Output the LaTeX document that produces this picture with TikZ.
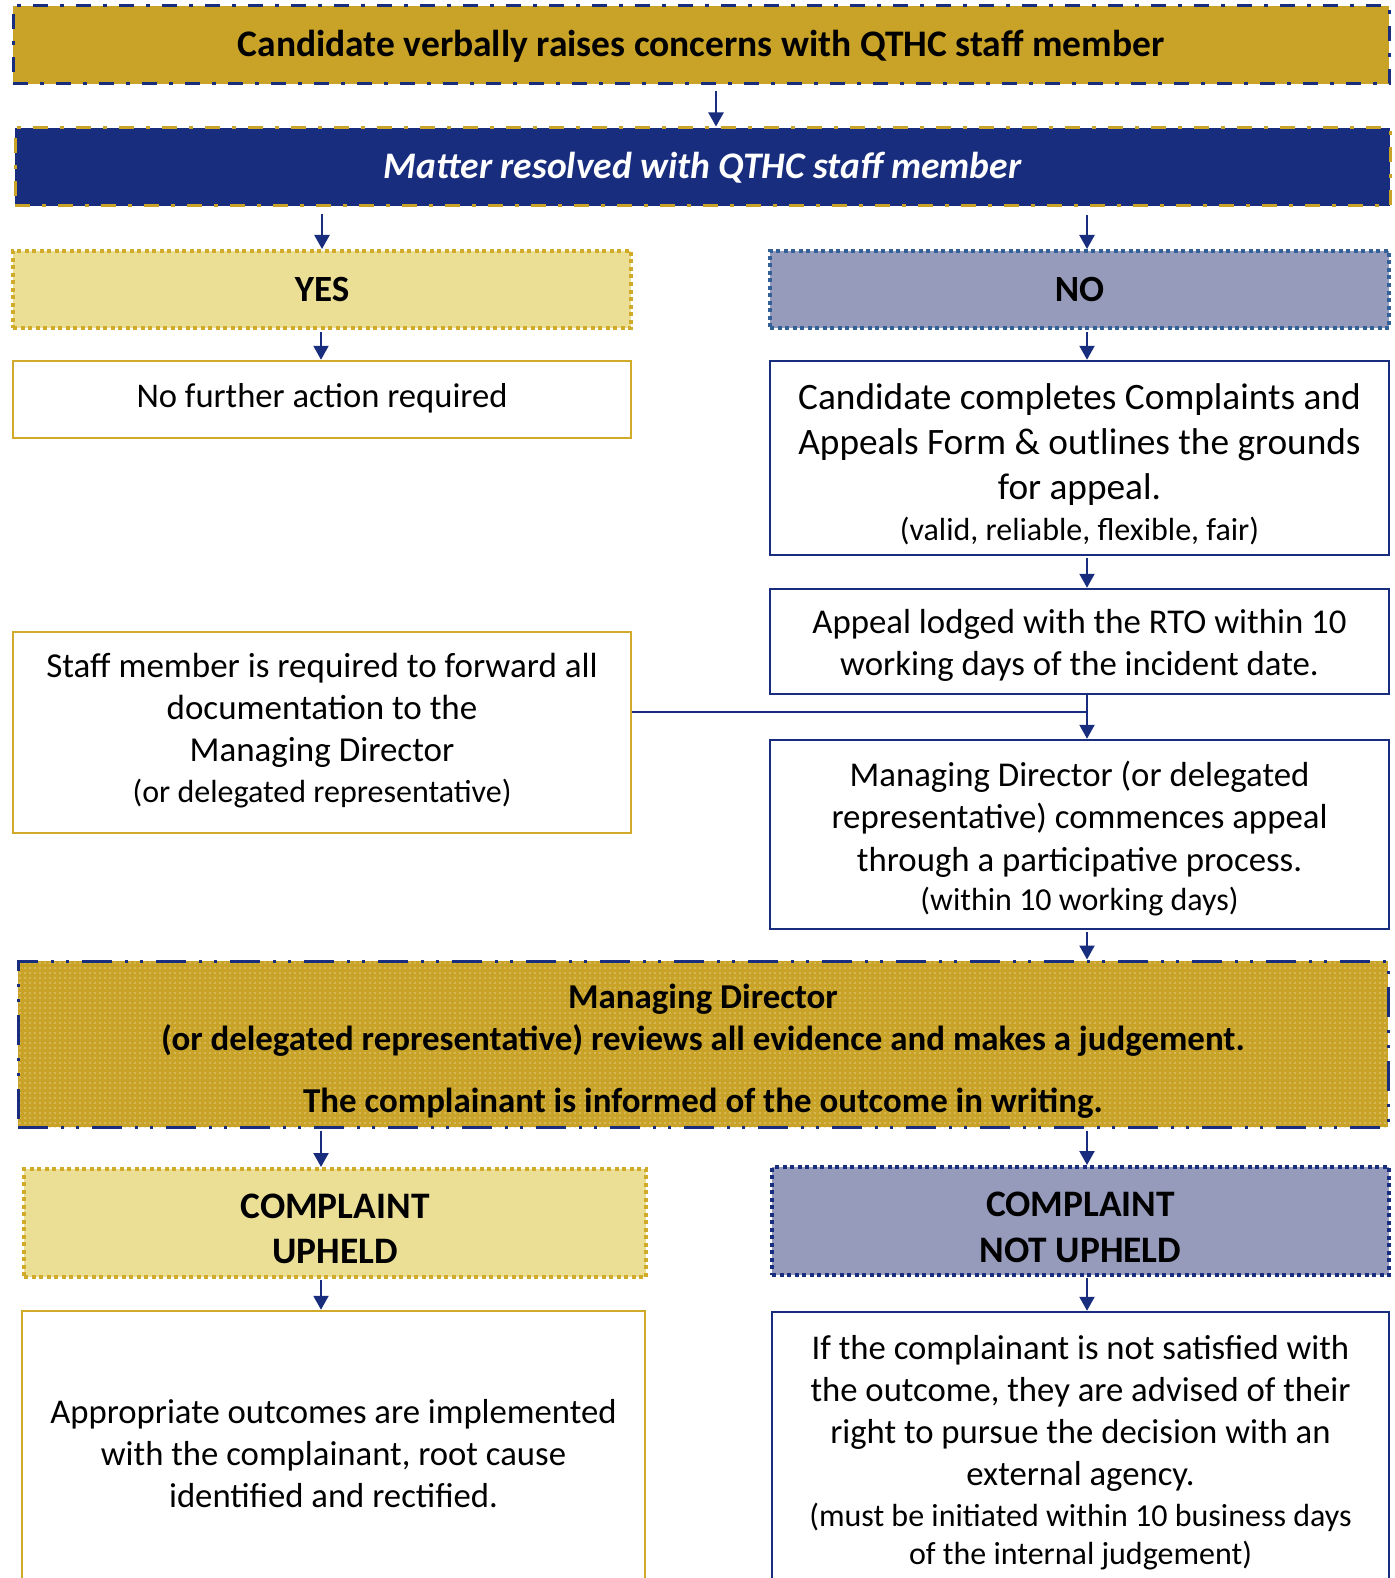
\documentclass[tikz,border=0pt]{standalone}
\usepackage{fontspec}
\setmainfont{Carlito}
\usetikzlibrary{arrows.meta,patterns.meta}
\definecolor{gold}{RGB}{201,163,39}
\definecolor{navy}{RGB}{24,45,125}
\definecolor{lgold}{RGB}{235,223,150}
\definecolor{lav}{RGB}{151,155,187}
\definecolor{steel}{RGB}{52,96,152}
\definecolor{bgold}{RGB}{209,170,42}
\tikzset{
  box/.style={rectangle, inner sep=0pt},
  txt/.style={inner sep=0pt, align=center, text=black},
  gbox/.style={box, draw=bgold, line width=2.5pt, fill=white},
  nbox/.style={box, draw=navy, line width=2.5pt, fill=white},
  arr/.style={draw=navy, line width=2.2pt, -{Triangle[width=15pt,length=14pt]}},
  dashdot/.style={dash pattern=on 15pt off 12pt on 4pt off 12pt},
  dashdotdot/.style={dash pattern=on 30pt off 13pt on 3pt off 12pt on 3pt off 13pt},
  sqdots/.style={line width=4pt, dash pattern=on 4pt off 3.5pt},
  fs/.style n args={2}{font=\fontsize{#1}{#2}\selectfont},
  bfs/.style n args={2}{font=\bfseries\fontsize{#1}{#2}\selectfont},
}
\newcommand{\smalltxt}{\fontsize{32}{38}\selectfont}
\begin{document}
\begin{tikzpicture}[x=1pt,y=-1pt]
\useasboundingbox (0,0) rectangle (1394,1578);
\clip (0,0) rectangle (1394,1578);
\fill[white] (0,0) rectangle (1394,1578);
% x positions of connectors
\coordinate (xa) at (716,0);
\coordinate (xl) at (321,0);
\coordinate (xr) at (1087,0);

% boxes
\node[box, fill=gold, draw=navy, line width=3pt, dashdot, minimum width=1376pt, minimum height=78pt] (top) at (701,45) {};
\node[box, fill=navy, draw=gold, line width=3pt, dashdot, minimum width=1375pt, minimum height=78pt] (mat) at (702.5,167) {};
\node[box, fill=lgold, draw=bgold, sqdots, minimum width=618pt, minimum height=77pt] (yes) at (322,289.5) {};
\node[box, fill=lav, draw=steel, sqdots, minimum width=619pt, minimum height=77pt] (no) at (1079.5,289.5) {};
\node[gbox, minimum width=618pt, minimum height=77pt] (nfa) at (322,399.5) {};
\node[nbox, minimum width=619pt, minimum height=194pt] (form) at (1079.5,458) {};
\node[nbox, minimum width=619pt, minimum height=105pt] (lodge) at (1079.5,641.5) {};
\node[gbox, minimum width=618pt, minimum height=201pt] (staff) at (322,732.5) {};
\node[nbox, minimum width=619pt, minimum height=189pt] (md) at (1079.5,834.5) {};
\node[box, draw=navy, line width=3pt, dashdotdot, preaction={fill=gold}, pattern={Dots[radius=0.8pt,distance=5pt]}, pattern color=gold!55!white, minimum width=1370pt, minimum height=166pt] (big) at (703,1044) {};
\node[box, fill=lgold, draw=bgold, sqdots, minimum width=622pt, minimum height=108pt] (up) at (335,1223) {};
\node[box, fill=lav, draw=navy, sqdots, minimum width=617pt, minimum height=108pt] (nup) at (1080.5,1221) {};
\node[gbox, minimum width=623pt, minimum height=280pt] (out) at (333.5,1451) {};
\node[nbox, minimum width=617pt, minimum height=280pt] (ext) at (1080.5,1452) {};

% texts
\node[txt, bfs={37.5}{44}] (topt) at ([yshift=-1pt]top.center) {Candidate verbally raises concerns with QTHC staff member};
\node[txt, text=white, font=\bfseries\itshape\fontsize{37.5}{44}\selectfont] (matt) at ([yshift=-1pt]mat.center) {Matter resolved with QTHC staff member};
\node[txt, bfs={37}{44}] (yest) at (yes.center) {YES};
\node[txt, bfs={37}{44}] (not) at (no.center) {NO};
\node[txt, fs={34.6}{42}] (nfat) at ([yshift=1pt]nfa.center) {No further action required};
\node[txt, fs={37.3}{45}] (formt) at ([yshift=-6pt]form.center) {Candidate completes Complaints and\\Appeals Form \& outlines the grounds\\for appeal.\\[-4pt]{\smalltxt (valid, reliable, flexible, fair)}};
\node[txt, fs={34.8}{42}] (lodget) at ([yshift=-4pt]lodge.center) {Appeal lodged with the RTO within 10\\working days of the incident date.};
\node[txt, fs={35}{42}] (stafft) at ([yshift=2pt]staff.center) {Staff member is required to forward all\\documentation to the\\Managing Director\\[-1pt]{\smalltxt(or delegated representative)}};
\node[txt, fs={34.8}{42.5}] (mdt) at ([yshift=-4pt]md.center) {Managing Director (or delegated\\representative) commences appeal\\through a participative process.\\[-3pt]{\smalltxt(within 10 working days)}};
\node[txt, bfs={34.9}{42}] (bigt) at ([yshift=-7pt]big.center) {Managing Director\\(or delegated representative) reviews all evidence and makes a judgement.\\[20pt]The complainant is informed of the outcome in writing.};
\node[txt, bfs={37.4}{45.5}] (upt) at ([yshift=-6pt]up.center) {COMPLAINT\\UPHELD};
\node[txt, bfs={37.4}{46}] (nupt) at ([yshift=-6pt]nup.center) {COMPLAINT\\NOT UPHELD};
\node[txt, fs={34.7}{42}] (outt) at ([yshift=-3pt]out.center) {Appropriate outcomes are implemented\\with the complainant, root cause\\identified and rectified.};
\node[txt, fs={34.7}{42}] (extt) at ([yshift=-1pt]ext.center) {If the complainant is not satisfied with\\the outcome, they are advised of their\\right to pursue the decision with an\\external agency.\\[-1pt]{\smalltxt(must be initiated within 10 business days}\\[-4pt]{\smalltxt of the internal judgement)}};

% connectors
\draw[arr, shorten <=6pt] (top.south -| xa) -- (mat.north -| xa);
\draw[arr, shorten <=7pt] (mat.south -| yes.north) -- (yes.north);
\draw[arr, shorten <=8pt] (mat.south -| xr) -- (no.north -| xr);
\draw[arr, shorten <=2pt] (yes.south -| xl) -- (nfa.north -| xl);
\draw[arr, shorten <=2pt] (no.south -| xr) -- (form.north -| xr);
\draw[arr, shorten <=2pt] (form.south -| xr) -- (lodge.north -| xr);
\draw[arr] (lodge.south -| xr) -- (md.north -| xr);
\coordinate (join) at (xr |- 0,712);
\draw[navy, line width=2.2pt] (staff.east |- join) -- (join);
\draw[arr, shorten <=2pt] (md.south -| xr) -- (big.north -| xr);
\draw[arr, shorten <=2pt] (big.south -| xl) -- (up.north -| xl);
\draw[arr, shorten <=2pt] (big.south -| xr) -- (nup.north -| xr);
\draw[arr, shorten <=1pt] (up.south -| xl) -- (out.north -| xl);
\draw[arr, shorten <=1pt] (nup.south -| xr) -- (ext.north -| xr);
\end{tikzpicture}
\end{document}
